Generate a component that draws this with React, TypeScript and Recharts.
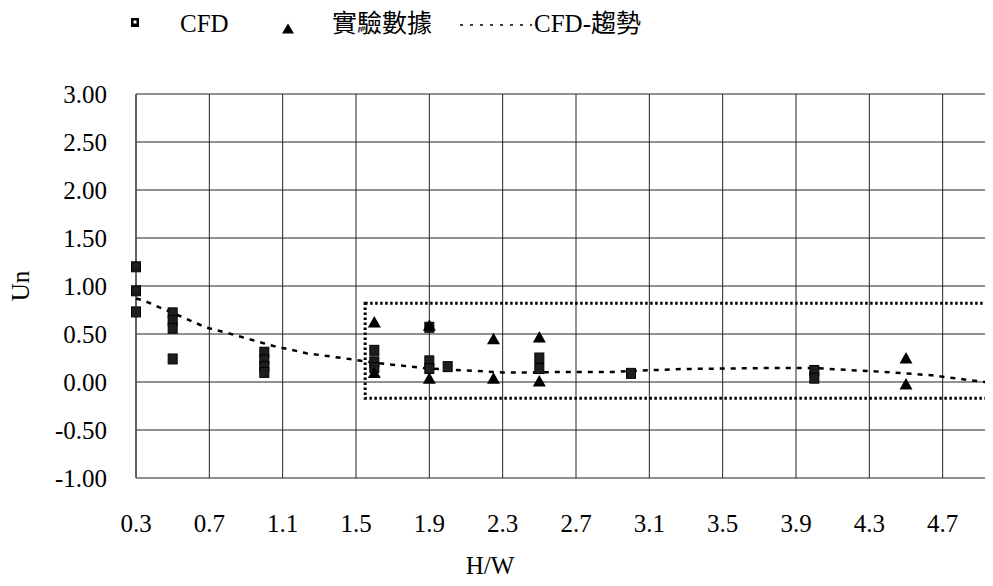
import React from 'react';
import { ScatterChart, Scatter, XAxis, YAxis, CartesianGrid, ReferenceArea, Legend } from 'recharts';

const seriesNames = ['CFD', '實驗數據', 'CFD-趨勢'];

const cfdHW = [0.3, 0.3, 0.3, 0.5, 0.5, 0.5, 0.5, 1.0, 1.0, 1.0, 1.0, 1.6, 1.6, 1.6, 1.9, 1.9, 1.9, 2.0, 2.5, 2.5, 3.0, 4.0, 4.0, 5.0];
const cfdUn = [1.2, 0.95, 0.73, 0.72, 0.64, 0.56, 0.24, 0.31, 0.23, 0.16, 0.1, 0.33, 0.21, 0.15, 0.57, 0.22, 0.14, 0.16, 0.25, 0.14, 0.09, 0.12, 0.04, 0.01];

const expHW = [1.6, 1.6, 1.9, 1.9, 2.25, 2.25, 2.5, 2.5, 4.5, 4.5];
const expUn = [0.625, 0.1, 0.59, 0.04, 0.45, 0.04, 0.47, 0.01, 0.25, -0.02];

const trendHW = [0.3, 0.34, 0.45, 0.56, 0.68, 0.8, 0.93, 1.05, 1.16, 1.23, 1.5, 1.6, 1.9, 2.0, 2.3, 2.5, 2.63, 2.9, 3.0, 3.28, 3.72, 4.0, 4.38, 4.64, 4.97];
const trendUn = [0.87, 0.85, 0.76, 0.67, 0.57, 0.51, 0.44, 0.375, 0.33, 0.3, 0.23, 0.2, 0.14, 0.13, 0.1, 0.1, 0.105, 0.105, 0.115, 0.135, 0.145, 0.145, 0.105, 0.07, -0.01];

const xTicks = [0.3, 0.7, 1.1, 1.5, 1.9, 2.3, 2.7, 3.1, 3.5, 3.9, 4.3, 4.7];
const xGrid = [0.3, 0.7, 1.1, 1.5, 1.9, 2.3, 2.7, 3.1, 3.5, 3.9, 4.3, 4.7, 5.1];
const yTicks = [-1, -0.5, 0, 0.5, 1, 1.5, 2, 2.5, 3];

const boxHW = [1.55, 5.1];
const boxUn = [-0.17, 0.82];

const cfdData = cfdHW.map((x, i) => ({ x, y: cfdUn[i] }));
const expData = expHW.map((x, i) => ({ x, y: expUn[i] }));
const trendData = trendHW.map((x, i) => ({ x, y: trendUn[i] }));

const FONT = "'Liberation Serif', 'Times New Roman', 'Noto Sans CJK TC', serif";

const SquareShape = (props: any) => {
  const { cx, cy } = props;
  if (cx == null || cy == null) return <g />;
  return <rect x={cx - 4.5} y={cy - 5} width={9} height={10} fill="#1e1e1e" stroke="#000" strokeWidth={1} />;
};

const TriangleShape = (props: any) => {
  const { cx, cy } = props;
  if (cx == null || cy == null) return <g />;
  return <polygon points={`${cx - 6.5},${cy + 5.5} ${cx + 6.5},${cy + 5.5} ${cx},${cy - 6}`} fill="#000" />;
};

const NoShape = () => <g />;

const renderLegend = () => (
  <svg width={700} height={40} style={{ display: 'block' }}>
    <rect x={123} y={10} width={8} height={9} fill="#000" />
    <rect x={125.5} y={12.5} width={3} height={3} fill="#fff" />
    <text x={172} y={24} fontSize={25} fontFamily={FONT} fill="#000">{seriesNames[0]}</text>
    <polygon points="274,25.5 286,25.5 280,15.5" fill="#000" />
    <text x={324} y={24} fontSize={25} fontFamily={FONT} fill="#000">{seriesNames[1]}</text>
    <line x1={452} x2={524} y1={17} y2={17} stroke="#000" strokeWidth={1.5} strokeDasharray="3 7" />
    <text x={526} y={24} fontSize={25} fontFamily={FONT} fill="#000">{seriesNames[2]}</text>
  </svg>
);

const XLabel = (props: any) => {
  const vb = props.viewBox || {};
  return (
    <text x={(vb.x || 0) + 354} y={566} textAnchor="middle" fontSize={25} fontFamily={FONT} fill="#000">H/W</text>
  );
};

const YLabel = (props: any) => {
  const vb = props.viewBox || {};
  const cy = (vb.y || 0) + (vb.height || 0) / 2;
  return (
    <text x={12} y={cy} transform={`rotate(-90 12 ${cy})`} textAnchor="middle" dominantBaseline="central" fontSize={25} fontFamily={FONT} fill="#000">Un</text>
  );
};

const tickStyle = { fill: '#000', fontSize: 25, fontFamily: FONT };

export default function App() {
  return (
    <div style={{ width: 985, height: 578, overflow: 'hidden', position: 'relative' }}>
      <ScatterChart width={1008} height={578} margin={{ top: 86, right: 0, bottom: 0, left: 0 }}>
        <CartesianGrid stroke="#222" strokeWidth={1} verticalValues={xGrid} horizontalValues={yTicks} />
        <XAxis
          type="number"
          dataKey="x"
          domain={[0.3, 5.1]}
          ticks={xTicks}
          height={108}
          axisLine={false}
          tickLine={false}
          tickSize={0}
          tickMargin={36}
          tick={tickStyle}
          tickFormatter={(v: number) => v.toFixed(1)}
          interval={0}
          label={<XLabel />}
        />
        <YAxis
          type="number"
          dataKey="y"
          domain={[-1, 3]}
          ticks={yTicks}
          width={128}
          axisLine={{ stroke: '#555', strokeWidth: 1.5 }}
          tickLine={false}
          tickSize={0}
          tickMargin={29}
          tick={tickStyle}
          tickFormatter={(v: number) => v.toFixed(2)}
          interval={0}
          label={<YLabel />}
        />
        <ReferenceArea
          x1={boxHW[0]}
          x2={boxHW[1]}
          y1={boxUn[0]}
          y2={boxUn[1]}
          fill="none"
          fillOpacity={0}
          stroke="#000"
          strokeWidth={3}
          strokeDasharray="2.5 2.5"
          ifOverflow="visible"
        />
        <Legend layout="horizontal" verticalAlign="middle" align="center" content={renderLegend} wrapperStyle={{ top: 0, left: 0, width: 700, height: 40 }} />
        <Scatter name={seriesNames[2]} data={trendData} shape={<NoShape />} line={{ stroke: '#000', strokeWidth: 2.5, strokeDasharray: '5 6' }} lineType="joint" isAnimationActive={false} />
        <Scatter name={seriesNames[0]} data={cfdData} shape={<SquareShape />} isAnimationActive={false} />
        <Scatter name={seriesNames[1]} data={expData} shape={<TriangleShape />} isAnimationActive={false} />
      </ScatterChart>
    </div>
  );
}
